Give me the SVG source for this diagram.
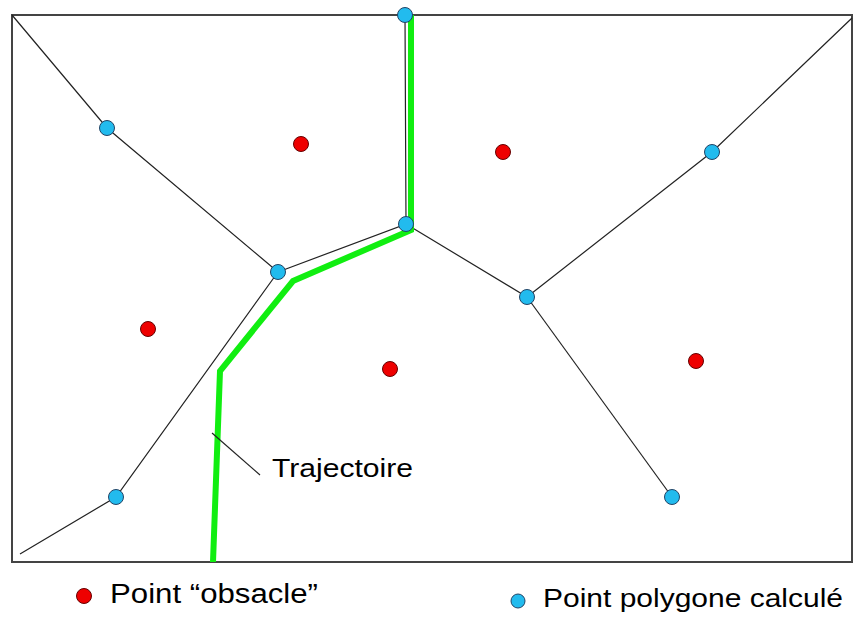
<svg xmlns="http://www.w3.org/2000/svg" width="853" height="619" viewBox="0 0 853 619">
<style>
.edge{fill:none;stroke:#222;stroke-width:1.2}
.path{fill:none;stroke:#11ee11;stroke-width:6;stroke-linejoin:miter}
.obs{fill:#ee0000;stroke:#660000;stroke-width:1}
.poly{fill:#22bbee;stroke:#224466;stroke-width:1}
.lbl{font-family:"Liberation Sans",Arial,sans-serif;fill:#000}
</style>
<rect x="0" y="0" width="853" height="619" fill="#fff"/>
<rect x="12" y="15" width="840" height="547" fill="none" stroke="#444" stroke-width="2"/>
<g id="connectors">
<polyline class="edge" points="12,15 107,128 278,272"/>
<polyline class="edge" points="278,272 406,224 405,15"/>
<polyline class="edge" points="406,224 527,297 712,152 852,18"/>
<polyline class="edge" points="527,297 672,497"/>
<polyline class="edge" points="278,272 116,497 20,554"/>
<polyline class="path" points="411,15 411,230 293,281 220,371 213,562"/>
<line class="edge" x1="212" y1="433" x2="260" y2="475"/>
</g>
<g id="poly-points">
<circle class="poly" cx="405" cy="15" r="7.5"/>
<circle class="poly" cx="107" cy="128" r="7.5"/>
<circle class="poly" cx="406" cy="224" r="7.5"/>
<circle class="poly" cx="278" cy="272" r="7.5"/>
<circle class="poly" cx="527" cy="297" r="7.5"/>
<circle class="poly" cx="712" cy="152" r="7.5"/>
<circle class="poly" cx="116" cy="497" r="7.5"/>
<circle class="poly" cx="672" cy="497" r="7.5"/>
</g>
<g id="obstacle-points">
<circle class="obs" cx="301" cy="144" r="7.5"/>
<circle class="obs" cx="503" cy="152" r="7.5"/>
<circle class="obs" cx="148" cy="329" r="7.5"/>
<circle class="obs" cx="390" cy="369" r="7.5"/>
<circle class="obs" cx="696" cy="361" r="7.5"/>
</g>
<g id="label-trajectoire">
<text class="lbl" x="272" y="477" font-size="26" textLength="141" lengthAdjust="spacingAndGlyphs">Trajectoire</text>
</g>
<g id="legend-obstacle">
<circle class="obs" cx="84" cy="596" r="7.5"/>
<text class="lbl" x="110" y="603" font-size="27" textLength="208" lengthAdjust="spacingAndGlyphs">Point “obsacle”</text>
</g>
<g id="legend-polygon">
<circle class="poly" cx="518" cy="601" r="7"/>
<text class="lbl" x="543" y="607" font-size="26" textLength="300" lengthAdjust="spacingAndGlyphs">Point polygone calculé</text>
</g>
</svg>
